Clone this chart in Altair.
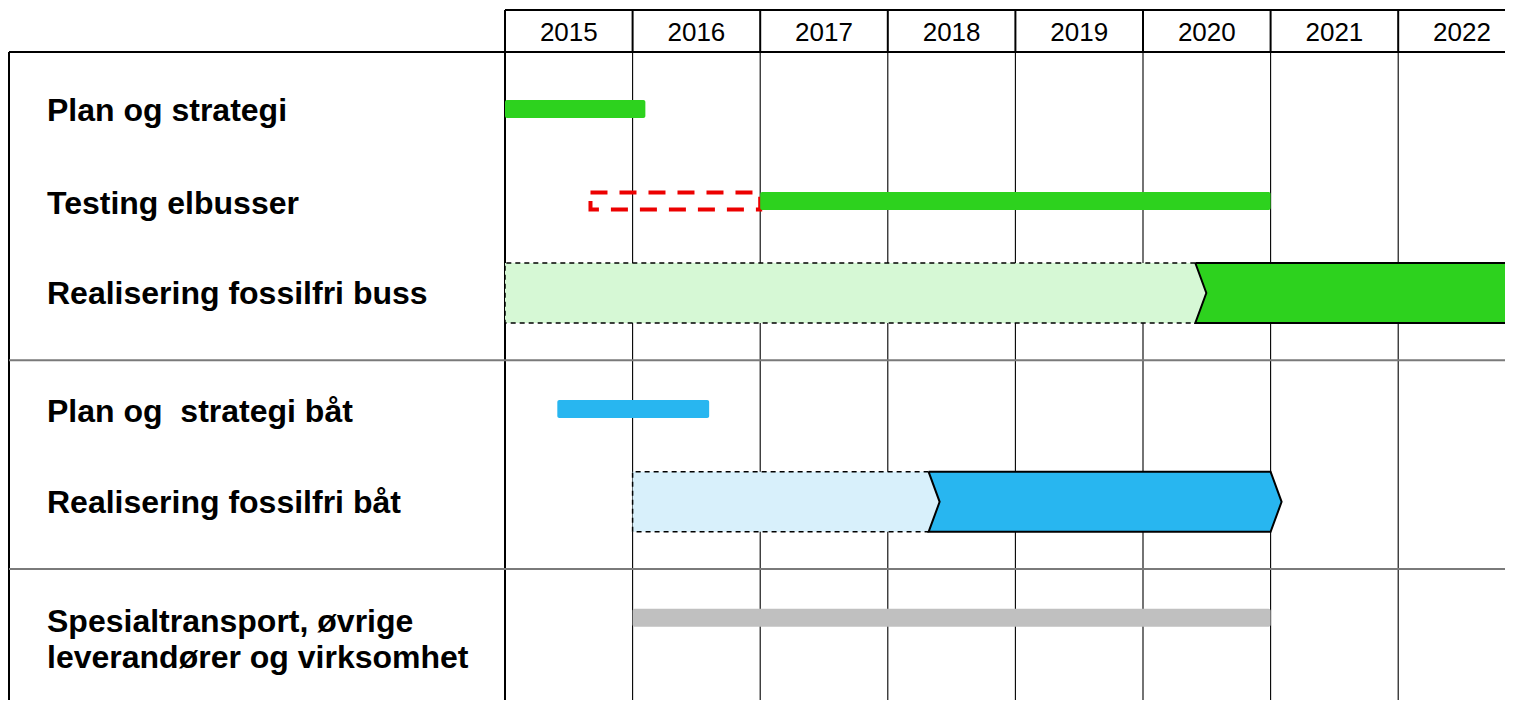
import altair as alt
import pandas as pd

# ---------------- data ----------------
years = [2015, 2016, 2017, 2018, 2019, 2020, 2021, 2022]
grid_years = [2016, 2017, 2018, 2019, 2020, 2021, 2022, 2023]

row_labels = ["Plan og strategi", "Testing elbusser", "Realisering fossilfri buss",
              "Plan og\u00a0 strategi båt", "Realisering fossilfri båt",
              "Spesialtransport, øvrige\nleverandører og virksomhet"]
row_label_slot = [0.02, 1.03, 2.01, 3.29, 4.28, 5.58]

bar_slot = [0, 1, 3.26, 5.53]
bar_start = [2015.0, 2017.0, 2015.41, 2016.0]
bar_end = [2016.1, 2021.0, 2016.6, 2021.0]
bar_color = ["#2dd21e", "#2dd21e", "#28b6f0", "#c0c0c0"]

test_slot = [1]
test_start = [2015.67]
test_end = [2017.0]

phase_slot = [2.0, 4.27]
phase_start = [2015.0, 2016.0]
phase_switch = [2020.41, 2018.32]
phase_end = [2022.89, 2021.0]
phase_light = ["#d6f8d5", "#d8f0fb"]
phase_dark = ["#2dd21e", "#28b6f0"]

group_breaks = [2.73, 5.0]

# ---------------- layout ----------------
W, H = 1497, 692
PX_YEAR = 127.6
PX_SLOT = 92.0
X0 = 2015 - 497 / PX_YEAR
X1 = X0 + W / PX_YEAR
Y0 = -101 / PX_SLOT
Y1 = Y0 + H / PX_SLOT
HEADER_TOP = Y0 + 2 / PX_SLOT
HEADER_BOTTOM = Y0 + 44 / PX_SLOT
HEADER_MID = Y0 + 25 / PX_SLOT
HALF = 30 / PX_SLOT
TIP = 11 / PX_YEAR

xs = alt.Scale(domain=[X0, X1], nice=False, zero=False, padding=0)
ys = alt.Scale(domain=[Y0, Y1], nice=False, zero=False, reverse=True, padding=0)


def X(f):
    return alt.X(f, type="quantitative", scale=xs, axis=None)


def Y(f):
    return alt.Y(f, type="quantitative", scale=ys, axis=None)


# ---------------- tables ----------------
bars = pd.DataFrame(dict(slot=bar_slot, s=bar_start, e=bar_end, c=bar_color))
test = pd.DataFrame(dict(slot=test_slot, s=test_start, e=test_end))

dark_rows, light_rows, dash_rows, solid_rows = [], [], [], []
for k in range(len(phase_slot)):
    c = phase_slot[k]
    t, b = c - HALF, c + HALF
    st, sw, en = phase_start[k], phase_switch[k], phase_end[k]
    for x, y, y2 in [(sw, t, b), (en, t, b), (en + TIP, c, c)]:
        dark_rows.append(dict(id=k, x=x, y=y, y2=y2, fill=phase_dark[k]))
    for x, y, y2 in [(st, t, b), (sw, t, b), (sw + TIP, c, c)]:
        light_rows.append(dict(id=k, x=x, y=y, y2=y2, fill=phase_light[k]))
    for i, (x, y) in enumerate([(sw, t), (st, t), (st, b), (sw, b)]):
        dash_rows.append(dict(id=k, i=i, x=x, y=y))
    pts = [(sw, t), (sw + TIP, c), (sw, b), (en, b), (en + TIP, c), (en, t), (sw, t)]
    for i, (x, y) in enumerate(pts):
        solid_rows.append(dict(id=k, i=i, x=x, y=y))

dark = pd.DataFrame(dark_rows)
light = pd.DataFrame(light_rows)
dash = pd.DataFrame(dash_rows)
solid = pd.DataFrame(solid_rows)

grid = pd.DataFrame(dict(x=grid_years, y=HEADER_BOTTOM, y2=Y1, yt=HEADER_TOP))
ylab = pd.DataFrame(dict(x=[v + 0.5 for v in years], label=[str(v) for v in years], y=HEADER_MID))
labels = pd.DataFrame(dict(label=row_labels, y=row_label_slot))
breaks = pd.DataFrame(dict(y=group_breaks))
single = pd.DataFrame(dict(x=[2015.0], xe=[X1 + 0.2], top=[HEADER_TOP], bot=[HEADER_BOTTOM], end=[Y1]))

# ---------------- layers ----------------
vgrid = alt.Chart(grid).mark_rule(color="black", strokeWidth=1.1).encode(x=X("x"), y=Y("y"), y2="y2")
vhead = alt.Chart(grid).mark_rule(color="black", strokeWidth=2).encode(x=X("x"), y=Y("yt"), y2="y")
v2015 = alt.Chart(single).mark_rule(color="black", strokeWidth=2).encode(x=X("x"), y=Y("top"), y2="end")
htop = alt.Chart(single).mark_rule(color="black", strokeWidth=2).encode(x=X("x"), x2="xe", y=Y("top"))
hbot = alt.Chart(single).mark_rule(color="black", strokeWidth=2).encode(
    x=alt.value(1), x2=alt.value(W + 5), y=Y("bot"))
vleft = alt.Chart(single).mark_rule(color="black", strokeWidth=2).encode(
    x=alt.value(1), y=Y("bot"), y2="end")
seps = alt.Chart(breaks).mark_rule(color="#7a7a7a", strokeWidth=2).encode(
    x=alt.value(1), x2=alt.value(W + 5), y=Y("y"))

year_text = alt.Chart(ylab).mark_text(
    font="Liberation Sans", fontSize=26, color="black", align="center", baseline="middle"
).encode(x=X("x"), y=Y("y"), text="label:N")

row_text = alt.Chart(labels).mark_text(
    font="Liberation Sans", fontSize=32, fontWeight="bold", color="black",
    align="left", baseline="middle", lineBreak="\n", lineHeight=36
).encode(x=alt.value(39), y=Y("y"), text="label:N")

red = alt.Chart(test).mark_bar(
    orient="horizontal", size=17, fill="transparent", stroke="#ec0000",
    strokeWidth=4, strokeDash=[17, 12]
).encode(x=X("s"), x2="e", y=Y("slot"))

thin = alt.Chart(bars).mark_bar(orient="horizontal", size=18, cornerRadius=2).encode(
    x=X("s"), x2="e", y=Y("slot"), color=alt.Color("c:N", scale=None))

dark_area = alt.Chart(dark).mark_area(orient="vertical", opacity=1).encode(
    x=X("x"), y=Y("y"), y2="y2", detail="id:N", color=alt.Color("fill:N", scale=None))
light_area = alt.Chart(light).mark_area(orient="vertical", opacity=1).encode(
    x=X("x"), y=Y("y"), y2="y2", detail="id:N", color=alt.Color("fill:N", scale=None))
dash_line = alt.Chart(dash).mark_line(color="black", strokeWidth=1.5, strokeDash=[5, 4]).encode(
    x=X("x"), y=Y("y"), detail="id:N", order="i:Q")
solid_line = alt.Chart(solid).mark_line(color="black", strokeWidth=2, strokeJoin="miter").encode(
    x=X("x"), y=Y("y"), detail="id:N", order="i:Q")

chart = alt.layer(
    vgrid, vhead, v2015, htop, hbot, vleft, seps,
    red, thin, dark_area, light_area, dash_line, solid_line,
    year_text, row_text
).properties(
    width=W, height=H, padding=0, autosize="none", background="white"
).configure_view(stroke=None)

chart.save("out.html", embed_options={"renderer": "svg", "actions": False})
